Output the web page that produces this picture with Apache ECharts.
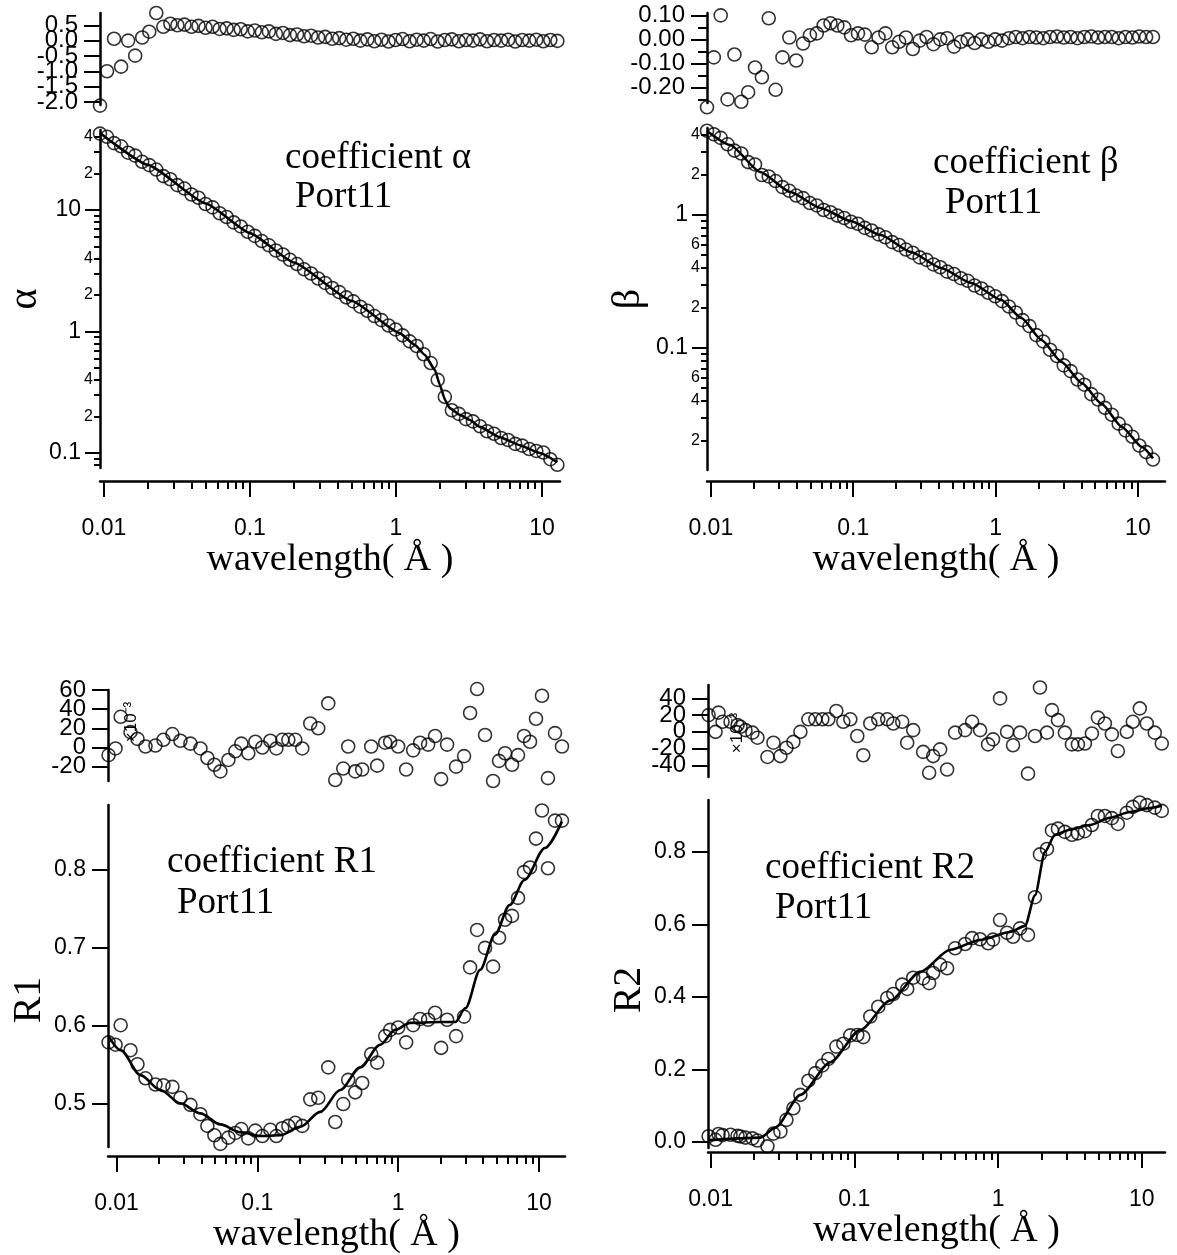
<!DOCTYPE html>
<html>
<head>
<meta charset="utf-8">
<script src="https://cdn.jsdelivr.net/npm/echarts@6/dist/echarts.min.js"></script>
<style>
html,body{margin:0;padding:0;background:#fff;}
#chart{width:1177px;height:1255px;}
</style>
</head>
<body>
<div id="chart"></div>
<script>
// ---------------- data ----------------
const topWavelength = [0.0094,0.0105,0.01173,0.01311,0.01465,0.01637,0.01829,0.02044,0.02284,0.02552,
  0.02851,0.03186,0.0356,0.03978,0.04445,0.04966,0.05549,0.06201,0.06928,0.07742,
  0.0865,0.09665,0.108,0.1207,0.1348,0.1507,0.1683,0.1881,0.2102,0.2348,
  0.2624,0.2932,0.3276,0.3661,0.409,0.4571,0.5107,0.5707,0.6376,0.7125,
  0.7962,0.8896,0.994,1.111,1.241,1.387,1.549,1.731,1.934,2.162,
  2.415,2.699,3.016,3.37,3.765,4.207,4.701,5.253,5.87,6.559,
  7.328,8.189,9.15,10.22,11.42,12.76];

const alphaValues = [42.5,40.0,35.5,33.4,29.6,28.0,24.9,23.4,21.5,19.0,
  17.9,16.0,15.0,13.4,12.6,11.2,10.5,9.40,8.75,7.90,
  7.32,6.62,6.12,5.55,5.12,4.64,4.30,3.89,3.59,3.25,
  3.00,2.73,2.51,2.28,2.11,1.91,1.77,1.60,1.48,1.34,
  1.24,1.12,1.04,0.93,0.83,0.76,0.65,0.55,0.40,0.29,
  0.225,0.21,0.19,0.182,0.166,0.151,0.144,0.133,0.128,0.119,
  0.115,0.108,0.104,0.101,0.089,0.080];
const alphaResidual = [-2.12,-1.0,0.06,-0.85,0.0,-0.49,0.1,0.29,0.9,0.45,
  0.55,0.5,0.52,0.45,0.48,0.42,0.45,0.38,0.4,0.35,
  0.37,0.3,0.33,0.27,0.3,0.22,0.25,0.18,0.2,0.14,
  0.16,0.1,0.12,0.06,0.08,0.03,0.06,0.0,0.04,-0.02,
  0.03,-0.03,0.02,0.05,-0.02,0.03,0.0,0.05,-0.03,0.02,
  0.04,-0.02,0.02,0.0,0.04,-0.02,0.02,0.0,0.03,-0.03,
  0.02,0.0,0.03,-0.02,0.02,-0.01];
const alphaFitWavelength = [0.0094,0.02,0.05,0.1,0.2,0.5,1.06,1.35,1.58,1.85,2.0,2.17,2.34,2.74,3.21,3.76,5.15,7.06,9.68,12.76];
const alphaFitValues = [43.0,23.5,11.3,6.45,3.70,1.78,0.97,0.774,0.641,0.482,0.363,0.273,0.234,0.206,0.187,0.164,0.135,0.116,0.100,0.084];

const betaValues = [4.30,4.05,3.80,3.40,3.05,2.90,2.50,2.40,2.00,1.95,
  1.80,1.62,1.52,1.40,1.34,1.23,1.18,1.09,1.05,0.99,
  0.95,0.89,0.86,0.80,0.765,0.715,0.68,0.625,0.595,0.55,
  0.52,0.48,0.46,0.425,0.405,0.375,0.36,0.335,0.32,0.295,
  0.28,0.26,0.245,0.225,0.205,0.185,0.162,0.146,0.125,0.112,
  0.097,0.087,0.074,0.067,0.058,0.053,0.045,0.041,0.0355,0.0315,
  0.027,0.024,0.0215,0.0185,0.0165,0.0145];
const betaResidual = [-0.283,-0.075,0.10,-0.25,-0.063,-0.26,-0.22,-0.117,-0.158,0.088,
  -0.21,-0.075,0.008,-0.088,-0.017,0.017,0.025,0.058,0.067,0.058,
  0.05,0.017,0.025,0.02,-0.033,0.008,0.025,-0.033,-0.01,0.008,
  -0.04,-0.005,0.01,-0.02,0.0,0.005,-0.03,-0.01,0.0,-0.015,
  0.0,-0.01,0.0,-0.005,0.005,0.01,0.005,0.01,0.008,0.005,
  0.01,0.012,0.008,0.01,0.005,0.01,0.012,0.008,0.01,0.01,
  0.005,0.01,0.008,0.012,0.01,0.01];
const betaFitWavelength = [0.0094,0.01365,0.02223,0.0362,0.059,0.096,0.1563,0.2544,0.4143,0.6745,1.098,1.52,2.104,2.912,4.031,5.578,7.72,10.69,12.76];
const betaFitValues = [4.28,3.36,2.105,1.489,1.129,0.901,0.707,0.527,0.3996,0.308,0.2296,0.168,0.1149,0.0785,0.0545,0.0379,0.0255,0.018,0.0148];

const r1Wavelength = [0.00878,0.00984,0.0107,0.01257,0.01409,0.01606,0.0189,0.02154,0.02494,0.02843,
  0.03348,0.03942,0.0442,0.04955,0.05464,0.06229,0.06982,0.077,0.0863,0.0968,
  0.1085,0.1237,0.1364,0.1504,0.166,0.186,0.2085,0.2376,0.2707,0.3188,
  0.3574,0.4074,0.4418,0.4955,0.5555,0.6434,0.7097,0.8087,0.8776,1.0,
  1.1395,1.2777,1.432,1.632,1.829,2.018,2.226,2.578,2.938,3.241,
  3.634,4.14,4.72,5.204,5.74,6.436,7.098,7.826,8.636,9.522,
  10.5,11.58,12.99,14.56];
const r1Values = [0.579,0.576,0.601,0.569,0.551,0.533,0.525,0.524,0.522,0.508,
  0.499,0.487,0.472,0.460,0.449,0.457,0.463,0.468,0.456,0.466,
  0.459,0.467,0.459,0.469,0.472,0.476,0.472,0.506,0.508,0.547,
  0.477,0.500,0.531,0.515,0.527,0.564,0.553,0.587,0.595,0.598,
  0.579,0.601,0.609,0.608,0.617,0.572,0.608,0.587,0.612,0.675,
  0.723,0.700,0.676,0.713,0.736,0.741,0.764,0.797,0.803,0.840,
  0.876,0.802,0.863,0.863];
const r1Residual = [-8,-1,32,16,9,1,2,8,14,7,
  4,-1,-11,-18,-25,-13,-4,4,-6,6,
  0,7,-1,8,8,8,-1,25,20,46,
  -34,-22,1,-25,-23,1,-19,5,6,1,
  -23,-3,5,3,12,-33,3,-20,-9,36,
  61,13,-35,-14,-6,-18,-8,12,6,30,
  54,-32,15,1];
const r1FitWavelength = [0.00878,0.0107,0.0148,0.0205,0.0284,0.0394,0.0546,0.0757,0.105,0.1456,0.2018,0.2798,0.3879,0.5378,0.7456,0.9522,1.216,1.975,2.541,3.007,3.822,4.866,6.195,7.888,11.03,14.56];
const r1FitValues = [0.587,0.569,0.537,0.518,0.501,0.488,0.474,0.464,0.459,0.460,0.471,0.490,0.518,0.547,0.576,0.595,0.604,0.605,0.605,0.623,0.672,0.717,0.755,0.787,0.828,0.862];

const r2Wavelength = [0.00969,0.01083,0.01136,0.01212,0.01377,0.0154,0.01615,0.0175,0.01957,0.0212,
  0.02488,0.02738,0.03062,0.03371,0.0377,0.04217,0.04792,0.05359,0.05995,0.06598,
  0.07499,0.08386,0.0938,0.1049,0.1155,0.1292,0.1468,0.1695,0.1866,0.2154,
  0.2334,0.2569,0.3013,0.3317,0.3536,0.3955,0.4423,0.5028,0.5899,0.6598,
  0.7499,0.8524,0.9232,1.0325,1.155,1.271,1.422,1.616,1.807,1.957,
  2.189,2.371,2.61,2.919,3.265,3.594,4.02,4.496,4.948,5.535,
  6.19,6.813,7.867,8.66,9.685,10.83,12.31,13.77];
const r2Values = [0.016,0.006,0.022,0.019,0.020,0.017,0.015,0.012,0.010,0.004,
  -0.012,0.023,0.029,0.061,0.093,0.130,0.169,0.190,0.211,0.229,
  0.263,0.271,0.294,0.295,0.289,0.346,0.373,0.397,0.408,0.434,
  0.422,0.453,0.451,0.438,0.466,0.489,0.479,0.534,0.546,0.562,
  0.559,0.548,0.558,0.612,0.577,0.566,0.589,0.571,0.675,0.793,
  0.808,0.859,0.864,0.855,0.847,0.851,0.857,0.874,0.899,0.899,
  0.893,0.877,0.908,0.924,0.936,0.929,0.922,0.913];
const r2Residual = [20,0,23,12,12,8,6,2,-1,-7,
  -30,-13,-29,-19,-12,0,15,15,15,15,
  25,12,15,-5,-28,10,15,15,10,12,
  -13,2,-24,-49,-29,-21,-45,-1,2,12,
  2,-15,-9,40,0,-16,-1,-50,-5,53,
  -1,26,14,-1,-15,-15,-14,-2,17,10,
  -3,-23,0,12,28,10,-1,-14];
const r2FitWavelength = [0.00969,0.02225,0.02828,0.04217,0.06813,0.1101,0.1778,0.2872,0.4642,0.7499,1.212,1.54,1.807,2.121,2.488,3.162,4.353,5.995,8.254,11.37,13.77];
const r2FitValues = [0.005,0.012,0.04,0.13,0.22,0.309,0.39,0.469,0.53,0.557,0.579,0.596,0.68,0.80,0.847,0.861,0.874,0.894,0.91,0.921,0.927];

// tick values / labels
const xMajorTicks = [0.01,0.1,1,10];
const xMinorTicks = [0.02,0.03,0.04,0.05,0.06,0.07,0.08,0.09,0.2,0.3,0.4,0.5,0.6,0.7,0.8,0.9,2,3,4,5,6,7,8,9];
const alphaMajorTicks = [0.1,1,10];
const alphaMinorTicks = [0.08,0.09,0.2,0.3,0.4,0.5,0.6,0.7,0.8,0.9,2,3,4,5,6,7,8,9,20,30,40];
const alphaMinorLabels = [0.2,0.4,2,4,20,40];
const betaMajorTicks = [0.1,1];
const betaMinorTicks = [0.02,0.03,0.04,0.05,0.06,0.07,0.08,0.09,0.2,0.3,0.4,0.5,0.6,0.7,0.8,0.9,2,3,4];
const betaMinorLabels = [0.02,0.04,0.06,0.2,0.4,0.6,2,4];
const alphaResTicks = [-2,-1.5,-1,-0.5,0,0.5];
const alphaResLabelsA = [0.5,-0.5,-1.5];
const alphaResLabelsB = [0,-1,-2];
const betaResTicks = [-0.2,-0.1,0,0.1];
const betaResLabelsA = [0.1,-0.1];
const betaResLabelsB = [0,-0.2];
const betaResMinorTicks = [-0.25,-0.15,-0.05,0.05];
const r1ResTicks = [-20,0,20,40,60];
const r1ResLabelsA = [60,20,-20];
const r1ResLabelsB = [40,0];
const r2ResTicks = [-40,-20,0,20,40];
const r2ResLabelsA = [40,0,-40];
const r2ResLabelsB = [20,-20];
const r1Ticks = [0.5,0.6,0.7,0.8];
const r2Ticks = [0,0.2,0.4,0.6,0.8];

// ---------------- chart construction ----------------
const SERIF = '"Liberation Serif", "Times New Roman", serif';
const INK = '#000';

function fontAvailable(name) {
  const ctx = document.createElement('canvas').getContext('2d');
  const sample = '0.01 0.8 -20 1234567890';
  ctx.font = '40px monospace';
  const w1 = ctx.measureText(sample).width;
  ctx.font = '40px "' + name + '", monospace';
  const w2 = ctx.measureText(sample).width;
  return Math.abs(w1 - w2) > 0.5;
}
let SANS = '"Liberation Sans", Arial, Helvetica, sans-serif';
let tickScale = 1;
if (fontAvailable('Liberation Sans Narrow')) { SANS = '"Liberation Sans Narrow", "Liberation Sans", sans-serif'; tickScale = 1.13; }
function fs(n) { return Math.round(n * tickScale); }

function decadeLabel(v) { return v >= 1 ? String(Math.round(v)) : String(parseFloat(Number(v).toPrecision(1))); }
function mantissaLabel(v) { const e = Math.floor(Math.log10(v) + 1e-9); return String(Math.round(v / Math.pow(10, e))); }
function zip(a, b) { return a.map((x, i) => [x, b[i]]); }

const grids = [], xAxes = [], yAxes = [], series = [];

function baseAxis(extra) {
  return Object.assign({
    axisLine: { show: true, onZero: false, lineStyle: { color: INK, width: 2.5 } },
    splitLine: { show: false },
    minorTick: { show: false },
    minorSplitLine: { show: false },
    silent: true
  }, extra);
}
function tickStyle(values, len) {
  return { show: true, interval: 0, customValues: values, length: len, lineStyle: { color: INK, width: 2 } };
}
function labelStyle(extra) {
  return Object.assign({ show: true, interval: 0, showMinLabel: true, showMaxLabel: true, hideOverlap: false,
    fontFamily: SANS, color: INK }, extra);
}

function circleSeries(xi, yi, data) {
  return {
    type: 'scatter', xAxisIndex: xi, yAxisIndex: yi, data: data,
    symbol: 'circle', symbolSize: 13, clip: false, silent: true,
    itemStyle: { color: 'rgba(0,0,0,0)', borderColor: INK, borderWidth: 1.6 }
  };
}

function addPanel(p) {
  const gR = grids.length;
  grids.push({ left: p.left, top: p.resTop, width: p.width, height: p.resH, containLabel: false, outerBoundsMode: 'none' });
  const gM = grids.length;
  grids.push({ left: p.left, top: p.mainTop, width: p.width, height: p.mainH, containLabel: false, outerBoundsMode: 'none' });

  // x axes
  const xR = xAxes.length;
  xAxes.push({ type: 'log', gridIndex: gR, min: p.xMin, max: p.xMax, show: false });
  const xM = xAxes.length;
  xAxes.push(baseAxis({
    type: 'log', gridIndex: gM, position: 'bottom', min: p.xMin, max: p.xMax, offset: p.xOff,
    name: 'wavelength( Å )', nameLocation: 'middle', nameGap: p.titleGap,
    nameTextStyle: { fontFamily: SERIF, fontSize: 38, color: INK },
    axisTick: tickStyle(xMajorTicks, 16),
    axisLabel: labelStyle({ customValues: xMajorTicks, margin: 36, fontSize: fs(23), formatter: decadeLabel })
  }));
  xAxes.push(baseAxis({
    type: 'log', gridIndex: gM, position: 'bottom', min: p.xMin, max: p.xMax, offset: p.xOff,
    axisLine: { show: false, onZero: false },
    axisTick: tickStyle(xMinorTicks, 8),
    axisLabel: { show: false }
  }));

  // residual y axes: ticks on the first, labels alternate between two stacked axes
  const yR = yAxes.length;
  yAxes.push(baseAxis({
    type: 'value', gridIndex: gR, position: 'left', min: p.resMin, max: p.resMax,
    axisTick: tickStyle(p.resTicks, 16),
    axisLabel: labelStyle({ customValues: p.resLabelsA, margin: 22, fontSize: fs(24), formatter: p.resFmt })
  }));
  yAxes.push(baseAxis({
    type: 'value', gridIndex: gR, position: 'left', min: p.resMin, max: p.resMax,
    axisLine: { show: false, onZero: false },
    axisTick: p.resMinorTicks ? tickStyle(p.resMinorTicks, 9) : { show: false },
    axisLabel: labelStyle({ customValues: p.resLabelsB, margin: 22, fontSize: fs(24), formatter: p.resFmt })
  }));

  // main y axes
  const yM = yAxes.length;
  if (p.log) {
    yAxes.push(baseAxis({
      type: 'log', gridIndex: gM, position: 'left', min: p.yMin, max: p.yMax,
      name: p.yName, nameLocation: 'middle', nameGap: p.nameGap,
      nameTextStyle: { fontFamily: SERIF, fontSize: 40, color: INK, padding: p.namePad || 0 },
      axisTick: tickStyle(p.majorTicks, 15),
      axisLabel: labelStyle({ customValues: p.majorTicks, margin: 19, fontSize: fs(23), formatter: decadeLabel })
    }));
    yAxes.push(baseAxis({
      type: 'log', gridIndex: gM, position: 'left', min: p.yMin, max: p.yMax,
      axisLine: { show: false, onZero: false },
      axisTick: tickStyle(p.minorTicks, 6),
      axisLabel: labelStyle({ customValues: p.minorLabels, margin: 7, fontSize: fs(16), formatter: mantissaLabel })
    }));
  } else {
    yAxes.push(baseAxis({
      type: 'value', gridIndex: gM, position: 'left', min: p.yMin, max: p.yMax,
      name: p.yName, nameLocation: 'middle', nameGap: p.nameGap,
      nameTextStyle: { fontFamily: SERIF, fontSize: 40, color: INK, padding: p.namePad || 0 },
      axisTick: tickStyle(p.majorTicks, 16),
      axisLabel: labelStyle({ customValues: p.majorTicks, margin: 22, fontSize: fs(23), formatter: v => Number(v).toFixed(1) })
    }));
  }

  series.push(circleSeries(xR, yR, zip(p.xs, p.res)));
  series.push(circleSeries(xM, yM, zip(p.xs, p.ys)));
  series.push({
    type: 'line', xAxisIndex: xM, yAxisIndex: yM, data: zip(p.fitX, p.fitY),
    showSymbol: false, symbol: 'none', smooth: p.smooth, smoothMonotone: 'x', silent: true,
    lineStyle: { color: INK, width: 2.6 }
  });
}

addPanel({
  left: 100, width: 460, resTop: 13, resH: 92, mainTop: 130, mainH: 338, xOff: 13, titleGap: 58,
  xMin: 0.0094, xMax: 13.3,
  resMin: -2.1, resMax: 0.9, resTicks: alphaResTicks, resLabelsA: alphaResLabelsA, resLabelsB: alphaResLabelsB,
  resFmt: v => Number(v).toFixed(1),
  log: true, yMin: 0.0753, yMax: 45.5, majorTicks: alphaMajorTicks, minorTicks: alphaMinorTicks, minorLabels: alphaMinorLabels,
  yName: 'α', nameGap: 55, smooth: 0.15,
  xs: topWavelength, ys: alphaValues, res: alphaResidual, fitX: alphaFitWavelength, fitY: alphaFitValues
});
addPanel({
  left: 707, width: 458, resTop: 13, resH: 90, mainTop: 128, mainH: 342, xOff: 11, titleGap: 58,
  xMin: 0.0094, xMax: 15.5,
  resMin: -0.265, resMax: 0.11, resTicks: betaResTicks, resLabelsA: betaResLabelsA, resLabelsB: betaResLabelsB,
  resMinorTicks: betaResMinorTicks, resFmt: v => Number(v).toFixed(2),
  log: true, yMin: 0.0121, yMax: 4.51, majorTicks: betaMajorTicks, minorTicks: betaMinorTicks, minorLabels: betaMinorLabels,
  yName: 'β', nameGap: 59, smooth: 0.2,
  xs: topWavelength, ys: betaValues, res: betaResidual, fitX: betaFitWavelength, fitY: betaFitValues
});
addPanel({
  left: 108, width: 457, resTop: 690, resH: 91, mainTop: 805, mainH: 342, xOff: 9, titleGap: 54,
  xMin: 0.0087, xMax: 15.3,
  resMin: -35, resMax: 60, resTicks: r1ResTicks, resLabelsA: r1ResLabelsA, resLabelsB: r1ResLabelsB,
  resFmt: v => String(Math.round(v)),
  log: false, yMin: 0.445, yMax: 0.883, majorTicks: r1Ticks,
  yName: 'R1', nameGap: 59, namePad: [0, 48, 0, 0], smooth: 0.3,
  xs: r1Wavelength, ys: r1Values, res: r1Residual, fitX: r1FitWavelength, fitY: r1FitValues
});
addPanel({
  left: 708, width: 457, resTop: 685, resH: 92, mainTop: 800, mainH: 348, xOff: 4, titleGap: 54,
  xMin: 0.0096, xMax: 14.5,
  resMin: -54, resMax: 56, resTicks: r2ResTicks, resLabelsA: r2ResLabelsA, resLabelsB: r2ResLabelsB,
  resFmt: v => String(Math.round(v)),
  log: false, yMin: -0.0166, yMax: 0.943, majorTicks: r2Ticks,
  yName: 'R2', nameGap: 59, namePad: [0, 32, 0, 0], smooth: 0.25,
  xs: r2Wavelength, ys: r2Values, res: r2Residual, fitX: r2FitWavelength, fitY: r2FitValues
});

function note(text, x, y, size) {
  return { type: 'text', x: x, y: y, silent: true,
    style: { text: text, fill: INK, font: (size || 37) + 'px ' + SERIF, align: 'left', verticalAlign: 'middle' } };
}
function multiplier(x, y) {
  return { type: 'text', x: x, y: y, rotation: Math.PI / 2, silent: true,
    style: { text: '×10⁻³', fill: INK, font: '17px ' + SANS, align: 'center', verticalAlign: 'middle' } };
}

const chart = echarts.init(document.getElementById('chart'), null, { renderer: 'canvas', width: 1177, height: 1255 });
chart.setOption({
  backgroundColor: '#fff',
  animation: false,
  grid: grids,
  xAxis: xAxes,
  yAxis: yAxes,
  series: series,
  graphic: [
    note('coefficient α', 285, 158), note('Port11', 295, 197),
    note('coefficient β', 933, 163), note('Port11', 945, 203),
    note('coefficient R1', 167, 862), note('Port11', 177, 903),
    note('coefficient R2', 765, 868), note('Port11', 775, 908),
    multiplier(131, 722), multiplier(737, 733)
  ]
});
</script>
</body>
</html>
